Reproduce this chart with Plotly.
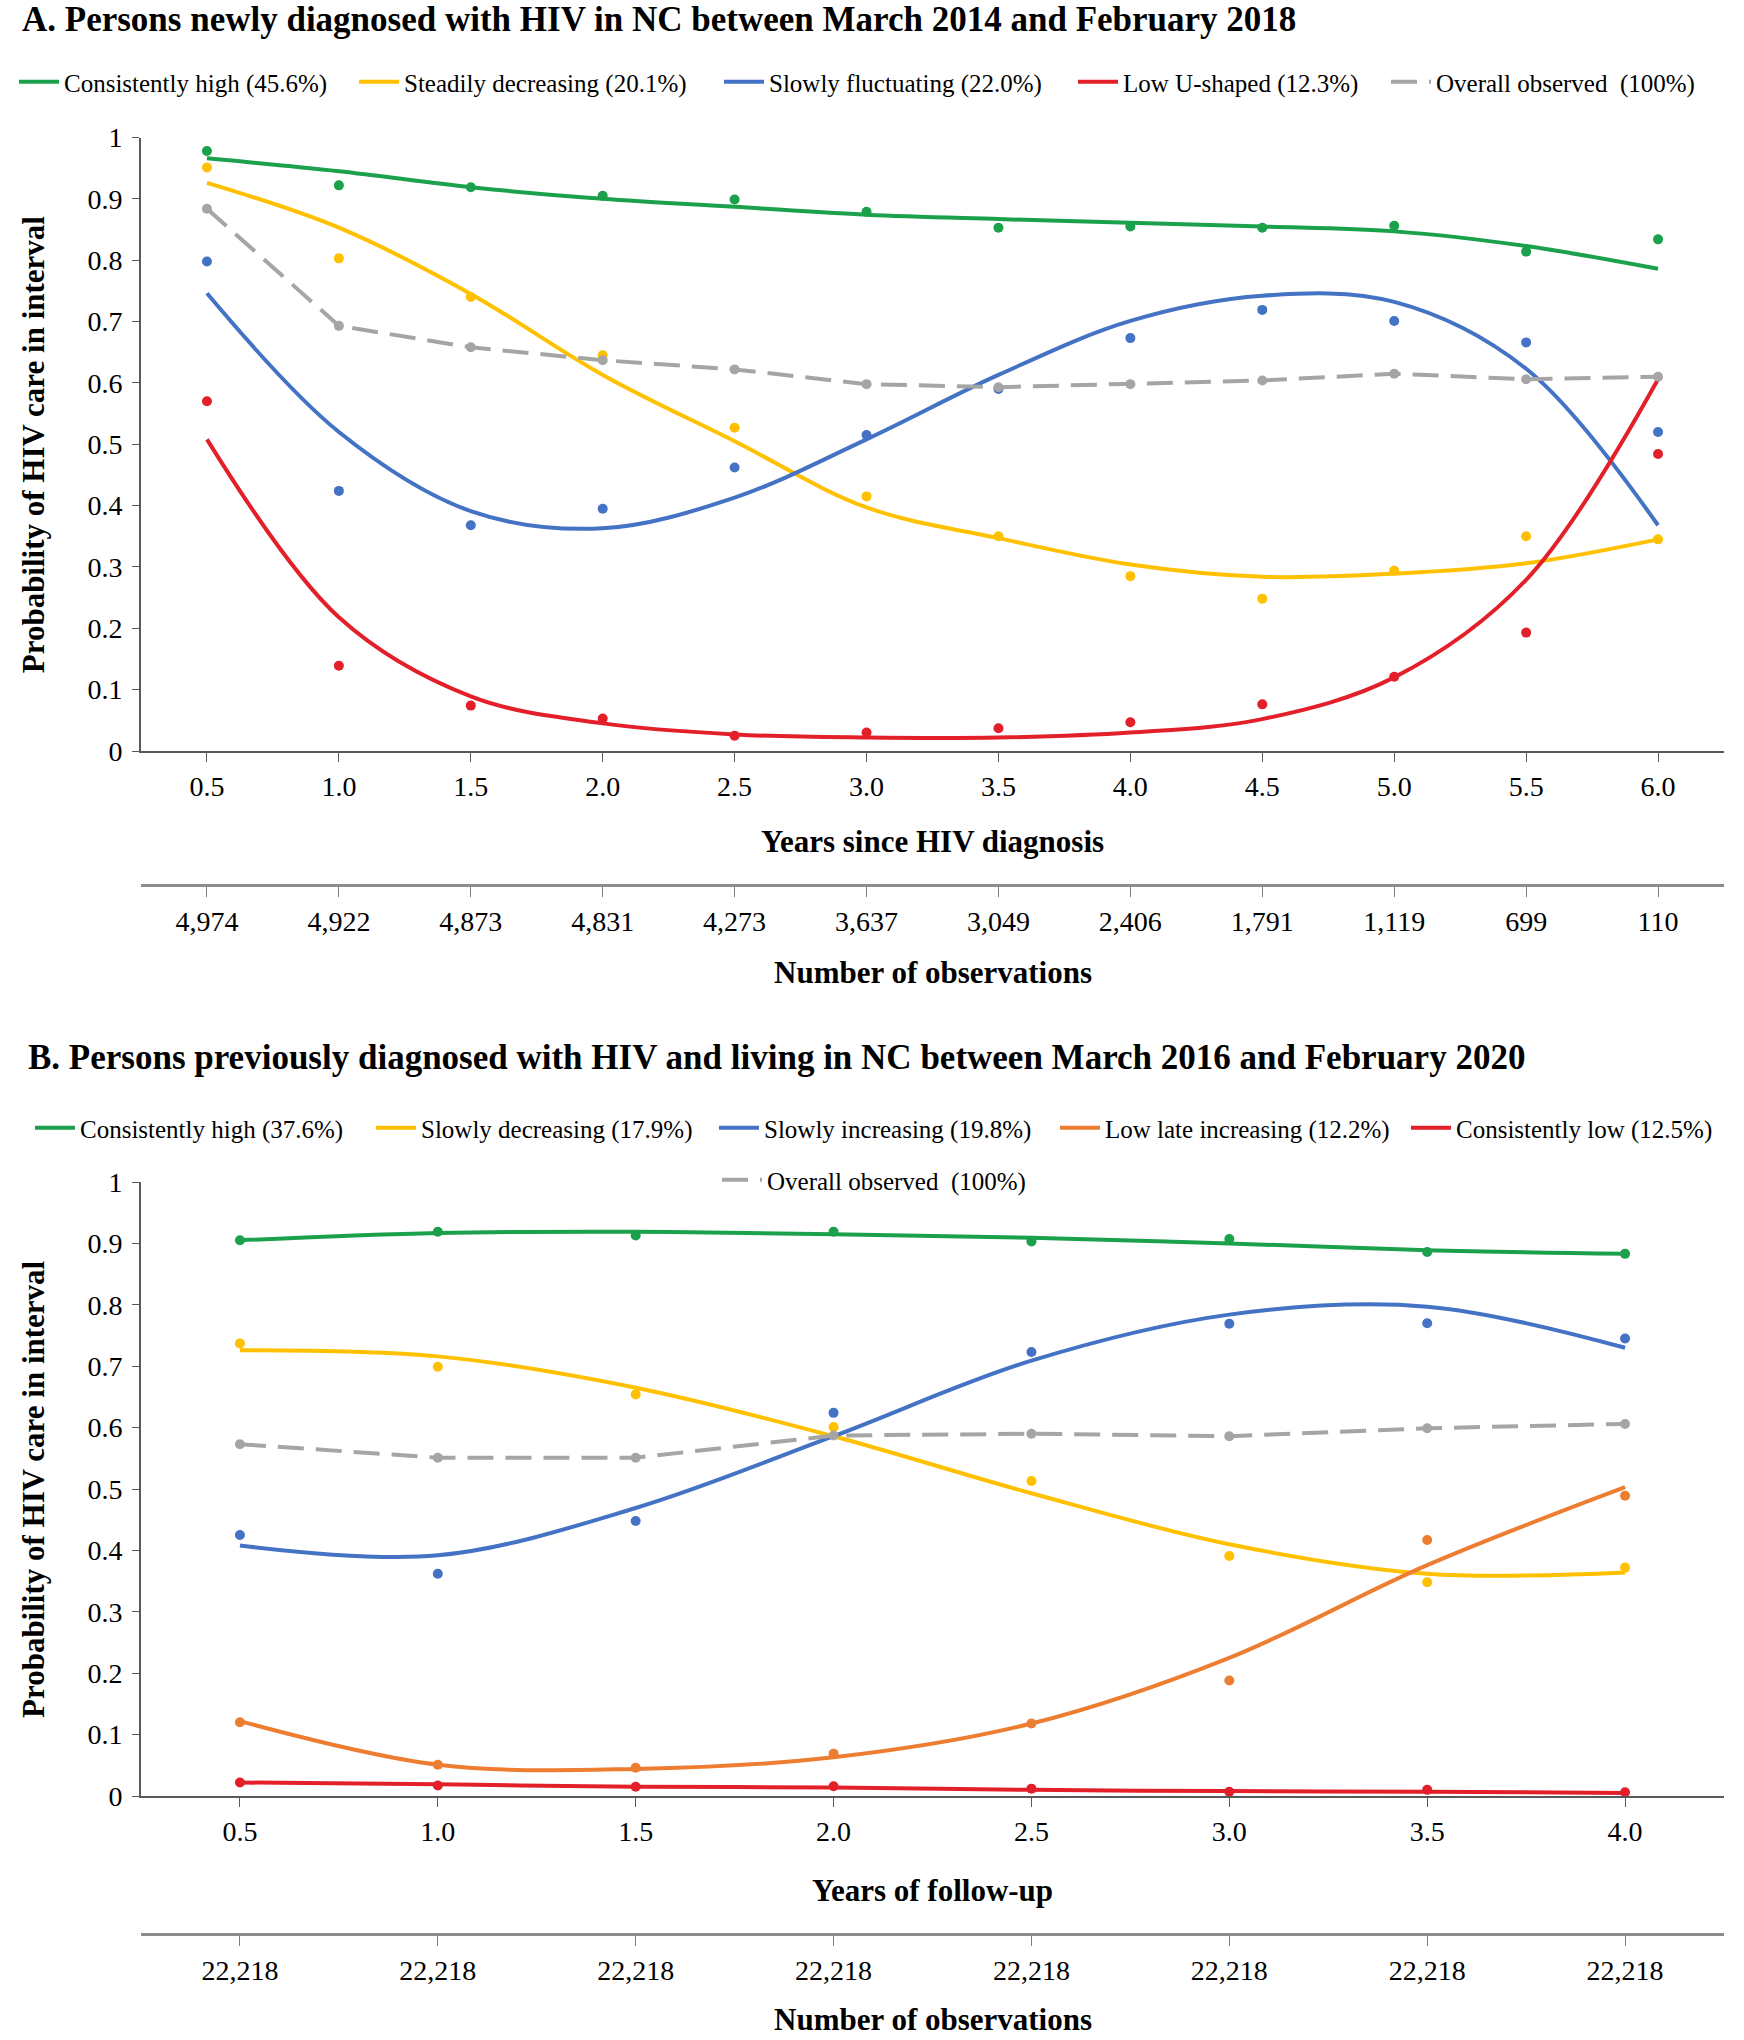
import plotly.graph_objects as go

# ---------------- data ----------------
years_a = [0.5, 1.0, 1.5, 2.0, 2.5, 3.0, 3.5, 4.0, 4.5, 5.0, 5.5, 6.0]
obs_a = ["4,974", "4,922", "4,873", "4,831", "4,273", "3,637", "3,049", "2,406", "1,791", "1,119", "699", "110"]

a_high_obs = [0.978, 0.922, 0.919, 0.905, 0.899, 0.879, 0.853, 0.855, 0.853, 0.856, 0.814, 0.834]
a_high_fit = [0.966, 0.945, 0.919, 0.900, 0.887, 0.874, 0.867, 0.861, 0.855, 0.847, 0.823, 0.786]
a_dec_obs = [0.951, 0.803, 0.740, 0.645, 0.527, 0.415, 0.350, 0.285, 0.248, 0.294, 0.350, 0.345]
a_dec_fit = [0.926, 0.853, 0.745, 0.613, 0.505, 0.397, 0.347, 0.304, 0.284, 0.289, 0.306, 0.345]
a_fluc_obs = [0.798, 0.424, 0.368, 0.395, 0.462, 0.515, 0.590, 0.673, 0.719, 0.701, 0.666, 0.520]
a_fluc_fit = [0.746, 0.520, 0.391, 0.363, 0.413, 0.508, 0.613, 0.701, 0.742, 0.732, 0.623, 0.368]
a_u_obs = [0.570, 0.139, 0.074, 0.053, 0.025, 0.030, 0.037, 0.047, 0.076, 0.121, 0.193, 0.484]
a_u_fit = [0.508, 0.218, 0.089, 0.045, 0.027, 0.022, 0.022, 0.030, 0.052, 0.120, 0.279, 0.606]
a_overall = [0.884, 0.693, 0.658, 0.637, 0.622, 0.598, 0.593, 0.598, 0.604, 0.615, 0.606, 0.610]

years_b = [0.5, 1.0, 1.5, 2.0, 2.5, 3.0, 3.5, 4.0]
obs_b = ["22,218"] * 8

b_high_obs = [0.905, 0.919, 0.913, 0.919, 0.903, 0.907, 0.886, 0.883]
b_high_fit = [0.905, 0.917, 0.919, 0.915, 0.909, 0.900, 0.889, 0.883]
b_dec_obs = [0.737, 0.699, 0.654, 0.601, 0.513, 0.391, 0.348, 0.372]
b_dec_fit = [0.726, 0.716, 0.665, 0.586, 0.493, 0.410, 0.362, 0.364]
b_inc_obs = [0.425, 0.362, 0.448, 0.624, 0.723, 0.769, 0.770, 0.745]
b_inc_fit = [0.408, 0.392, 0.469, 0.586, 0.709, 0.784, 0.797, 0.730]
b_late_obs = [0.120, 0.051, 0.046, 0.069, 0.118, 0.188, 0.417, 0.489]
b_late_fit = [0.122, 0.051, 0.044, 0.063, 0.118, 0.225, 0.376, 0.503]
b_low_obs = [0.022, 0.017, 0.015, 0.016, 0.012, 0.007, 0.010, 0.006]
b_low_fit = [0.022, 0.019, 0.015, 0.014, 0.010, 0.008, 0.007, 0.005]
b_overall = [0.573, 0.551, 0.551, 0.587, 0.590, 0.586, 0.599, 0.606]

y_ticks = [0, 0.1, 0.2, 0.3, 0.4, 0.5, 0.6, 0.7, 0.8, 0.9, 1]
y_ticktext = ["0", "0.1", "0.2", "0.3", "0.4", "0.5", "0.6", "0.7", "0.8", "0.9", "1"]

names_a = ["Consistently high (45.6%)", "Steadily decreasing (20.1%)", "Slowly fluctuating (22.0%)",
           "Low U-shaped (12.3%)", "Overall observed  (100%)"]
names_b = ["Consistently high (37.6%)", "Slowly decreasing (17.9%)", "Slowly increasing (19.8%)",
           "Low late increasing (12.2%)", "Consistently low (12.5%)", "Overall observed  (100%)"]

GREEN, YELLOW, BLUE, RED, ORANGE, GRAY = "#1BA14B", "#FFC000", "#4472C4", "#E3202A", "#ED7D31", "#A5A5A5"

# ---------------- geometry helpers ----------------
W, H = 1744, 2040
FONT = "Liberation Serif"


def px(x):
    return x / W


def py(y):
    return 1 - y / H


fig = go.Figure()


def add_group(xs, fit, obs, color, name, legend, xa, ya):
    fig.add_trace(go.Scatter(x=xs, y=fit, mode="lines", name=name, legend=legend,
                             line=dict(color=color, width=4, shape="spline", smoothing=1.0),
                             xaxis=xa, yaxis=ya, hoverinfo="skip"))
    fig.add_trace(go.Scatter(x=xs, y=obs, mode="markers", showlegend=False,
                             marker=dict(color=color, size=10), xaxis=xa, yaxis=ya))


def add_overall(xs, vals, name, legend, xa, ya):
    fig.add_trace(go.Scatter(x=xs, y=vals, mode="lines", name=name, legend=legend,
                             line=dict(color=GRAY, width=4, dash="26px,12px"),
                             xaxis=xa, yaxis=ya, hoverinfo="skip"))
    fig.add_trace(go.Scatter(x=xs, y=vals, mode="markers", showlegend=False,
                             marker=dict(color=GRAY, size=10), xaxis=xa, yaxis=ya))


# Panel A
add_group(years_a, a_high_fit, a_high_obs, GREEN, names_a[0], "legend", "x", "y")
add_group(years_a, a_dec_fit, a_dec_obs, YELLOW, names_a[1], "legend2", "x", "y")
add_group(years_a, a_fluc_fit, a_fluc_obs, BLUE, names_a[2], "legend3", "x", "y")
add_group(years_a, a_u_fit, a_u_obs, RED, names_a[3], "legend4", "x", "y")
add_overall(years_a, a_overall, names_a[4], "legend5", "x", "y")
fig.add_trace(go.Scatter(x=years_a, y=a_overall, mode="markers", marker=dict(opacity=0),
                         showlegend=False, hoverinfo="skip", xaxis="x3", yaxis="y"))

# Panel B
add_group(years_b, b_high_fit, b_high_obs, GREEN, names_b[0], "legend6", "x2", "y2")
add_group(years_b, b_dec_fit, b_dec_obs, YELLOW, names_b[1], "legend7", "x2", "y2")
add_group(years_b, b_inc_fit, b_inc_obs, BLUE, names_b[2], "legend8", "x2", "y2")
add_group(years_b, b_late_fit, b_late_obs, ORANGE, names_b[3], "legend9", "x2", "y2")
add_group(years_b, b_low_fit, b_low_obs, RED, names_b[4], "legend10", "x2", "y2")
add_overall(years_b, b_overall, names_b[5], "legend11", "x2", "y2")
fig.add_trace(go.Scatter(x=years_b, y=b_overall, mode="markers", marker=dict(opacity=0),
                         showlegend=False, hoverinfo="skip", xaxis="x4", yaxis="y2"))

tickfont = dict(family=FONT, size=28, color="black")
XDOM = [px(141), px(1724)]


def main_x(years, anchor):
    return dict(domain=XDOM, anchor=anchor, range=[0.25, years[-1] + 0.25], tickmode="array",
                tickvals=years, ticktext=[f"{v:.1f}" for v in years], ticks="outside", ticklen=9,
                tickcolor="#595959", showline=True, linecolor="#595959", linewidth=2, showgrid=False,
                zeroline=False, tickfont=tickfont, ticklabelstandoff=0, automargin=False)


def obs_x(years, labels, over, ypos):
    return dict(overlaying=over, anchor="free", position=py(ypos), side="bottom",
                range=[0.25, years[-1] + 0.25], tickmode="array", tickvals=years, ticktext=labels,
                ticks="outside", ticklen=10, tickcolor="#808080", showline=True, linecolor="#8c8c8c",
                linewidth=3, showgrid=False, zeroline=False, tickfont=tickfont, ticklabelstandoff=0,
                automargin=False)


def main_y(top, bottom, anchor):
    return dict(domain=[py(bottom), py(top)], anchor=anchor, range=[0, 1], tickmode="array",
                tickvals=y_ticks, ticktext=y_ticktext, ticks="outside", ticklen=7, tickcolor="#595959",
                showline=True, linecolor="#595959", linewidth=2, showgrid=False, zeroline=False,
                tickfont=tickfont, ticklabelstandoff=4, automargin=False)


def leg(xpx, ypx):
    return dict(x=px(xpx), y=py(ypx), xanchor="left", yanchor="middle", orientation="h",
                bgcolor="rgba(0,0,0,0)", font=dict(family=FONT, size=25, color="black"),
                itemwidth=40, traceorder="normal")


layout = dict(
    width=W, height=H, margin=dict(l=0, r=0, t=0, b=0, pad=0, autoexpand=False),
    paper_bgcolor="white", plot_bgcolor="white",
    font=dict(family=FONT, color="black"),
    xaxis=main_x(years_a, "y"), yaxis=main_y(137.5, 751, "x"),
    xaxis2=main_x(years_b, "y2"), yaxis2=main_y(1182, 1796, "x2"),
    xaxis3=obs_x(years_a, obs_a, "x", 885),
    xaxis4=obs_x(years_b, obs_b, "x2", 1934),
    legend=leg(14, 82), legend2=leg(354, 82), legend3=leg(719, 82), legend4=leg(1073, 82),
    legend5=leg(1386, 82),
    legend6=leg(30, 1128), legend7=leg(371, 1128), legend8=leg(714, 1128), legend9=leg(1055, 1128),
    legend10=leg(1406, 1128), legend11=leg(717, 1180),
    showlegend=True,
)
fig.update_layout(**layout)

title_font = dict(family=FONT, size=35, color="black")
axis_title_font = dict(family=FONT, size=31, color="black")
cx = (141 + 1724) / 2
annots = [
    dict(text="<b>A. Persons newly diagnosed with HIV in NC between March 2014 and February 2018</b>",
         x=px(20), y=py(20), xanchor="left", yanchor="middle", font=title_font),
    dict(text="<b>B. Persons previously diagnosed with HIV and living in NC between March 2016 and February 2020</b>",
         x=px(26), y=py(1057), xanchor="left", yanchor="middle", font=title_font),
    dict(text="<b>Years since HIV diagnosis</b>", x=px(cx), y=py(841), xanchor="center", yanchor="middle",
         font=axis_title_font),
    dict(text="<b>Number of observations</b>", x=px(cx), y=py(972), xanchor="center", yanchor="middle",
         font=axis_title_font),
    dict(text="<b>Years of follow-up</b>", x=px(cx), y=py(1890), xanchor="center", yanchor="middle",
         font=axis_title_font),
    dict(text="<b>Number of observations</b>", x=px(cx), y=py(2019), xanchor="center", yanchor="middle",
         font=axis_title_font),
    dict(text="<b>Probability of HIV care in interval</b>", x=px(33), y=py((137.5 + 751) / 2),
         xanchor="center", yanchor="middle", textangle=-90, font=axis_title_font),
    dict(text="<b>Probability of HIV care in interval</b>", x=px(33), y=py((1182 + 1796) / 2),
         xanchor="center", yanchor="middle", textangle=-90, font=axis_title_font),
]
for a in annots:
    a.update(xref="paper", yref="paper", showarrow=False)
fig.update_layout(annotations=annots)

fig.write_html("out.html")
